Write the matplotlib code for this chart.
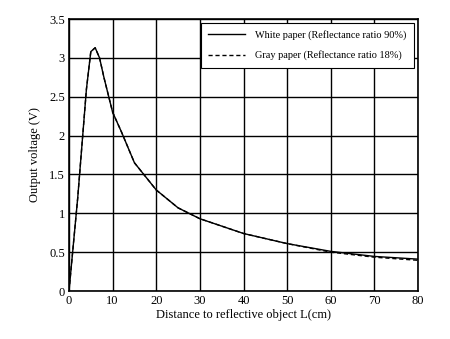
import matplotlib
matplotlib.use('Agg')
import matplotlib.pyplot as plt

plt.rcParams['font.family'] = ['Liberation Serif', 'DejaVu Serif']

dist = [0, 2, 4, 5, 6, 7, 8, 10, 12, 15, 20, 25, 30, 40, 50, 60, 70, 80]
white = [0, 1.2, 2.6, 3.08, 3.13, 3.0, 2.75, 2.3, 2.05, 1.65, 1.3, 1.07, 0.93, 0.74, 0.61, 0.51, 0.445, 0.41]
gray = [0, 1.2, 2.6, 3.08, 3.13, 3.0, 2.75, 2.3, 2.05, 1.65, 1.3, 1.07, 0.93, 0.74, 0.61, 0.50, 0.435, 0.395]

fig = plt.figure(figsize=(4.5, 3.39), dpi=100)
ax = fig.add_axes([69/450, 1 - 291/339, 349/450, 272/339])

ax.plot(dist, white, color='black', lw=1.0, label='White paper (Reflectance ratio 90%)')
ax.plot(dist, gray, color='black', lw=1.0, ls=(0, (3, 2)), label='Gray paper (Reflectance ratio 18%)')

ax.set_xlim(0, 80)
ax.set_ylim(0, 3.5)
ax.set_xticks(range(0, 81, 10))
ax.set_yticks([0, 0.5, 1, 1.5, 2, 2.5, 3, 3.5])
ax.set_yticklabels(['0', '0.5', '1', '1.5', '2', '2.5', '3', '3.5'])
ax.grid(True, color='black', lw=1.0)
ax.tick_params(length=0, labelsize=9, pad=3)
for s in ax.spines.values():
    s.set_linewidth(1.2)

ax.set_xlabel('Distance to reflective object L(cm)', fontsize=9, labelpad=1)
ax.set_ylabel('Output voltage (V)', fontsize=9, labelpad=6)

leg = ax.legend(loc='upper right', fontsize=7.4, fancybox=False, framealpha=1,
                edgecolor='black', borderpad=0.7, labelspacing=1.0, handlelength=3.6,
                handletextpad=1.0, borderaxespad=0,
                bbox_to_anchor=(1 - 4/349, 1 - 4/272))
leg.get_frame().set_linewidth(0.8)

fig.savefig('out.png', dpi=100)
